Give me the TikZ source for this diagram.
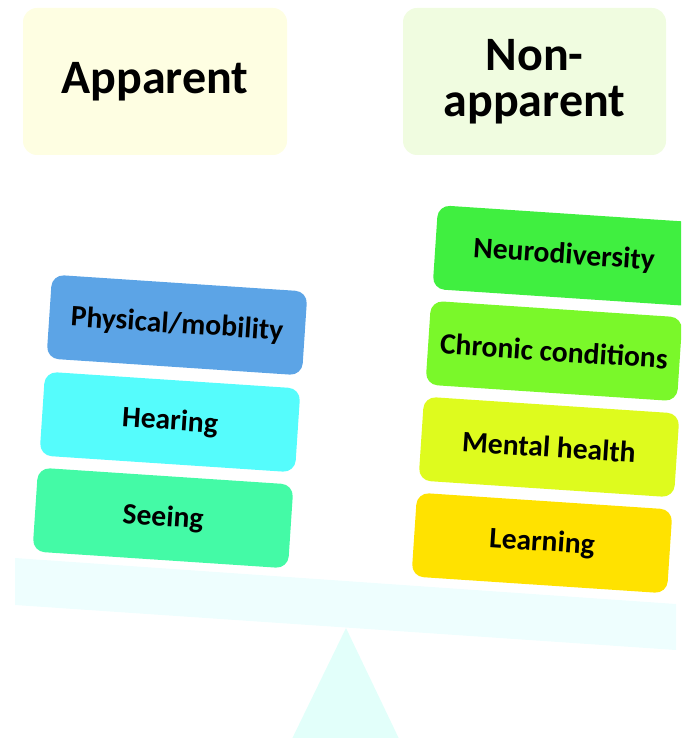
\documentclass[tikz,border=0pt]{standalone}
\usepackage{fontspec}
\setmainfont{Carlito}
\definecolor{apparentbg}{HTML}{FEFEE2}
\definecolor{nonapparentbg}{HTML}{F0FCE0}
\definecolor{physblue}{HTML}{5CA4E6}
\definecolor{hearcyan}{HTML}{55FCFC}
\definecolor{seegreen}{HTML}{44FAA6}
\definecolor{neurogreen}{HTML}{40EF40}
\definecolor{chronicgreen}{HTML}{7AF82A}
\definecolor{mentalyellow}{HTML}{DEFB1E}
\definecolor{learnyellow}{HTML}{FFE200}
\definecolor{beamcol}{HTML}{EEFEFE}
\definecolor{pivotcol}{HTML}{E2FFFA}
\tikzset{
  headbox/.style={rectangle, rounded corners=14pt, minimum width=264pt,
    minimum height=147pt, align=center, inner sep=0pt,
    font=\fontsize{48}{46}\selectfont\bfseries},
  itembox/.style={rectangle, rounded corners=12pt, minimum width=256pt,
    minimum height=84pt, rotate=-3.8, inner sep=0pt,
    font=\fontsize{29.6}{32}\selectfont\bfseries}
}
\begin{document}
\begin{tikzpicture}[x=1pt,y=1pt]
\useasboundingbox (0,0) rectangle (681,-738);
\clip (0,0) rectangle (681,-738);
% pivot and beam of the balance
\fill[pivotcol] (346,-628) -- (402,-745) -- (289,-745) -- cycle;
\fill[beamcol] (15,-558) -- (676,-604) -- (676,-650) -- (15,-605) -- cycle;
% column headings
\node[headbox, fill=apparentbg] (app) at (155,-81.5) {Apparent};
\node[headbox, fill=nonapparentbg, minimum width=263pt] (nonapp) at (534.5,-81.5) {Non-\\apparent};
% apparent side
\node[itembox, fill=physblue] (phys) at (177,-325) {Physical/mobility};
\node[itembox, fill=hearcyan] (hear) at (170,-422) {Hearing};
\node[itembox, fill=seegreen] (see) at (163,-518) {Seeing};
% non-apparent side
\node[itembox, fill=neurogreen, minimum width=270pt] (neuro) at (570,-256) {\hspace*{-12pt}Neurodiversity};
\node[itembox, fill=chronicgreen, minimum width=252pt] (chronic) at (554,-351) {Chronic conditions};
\node[itembox, fill=mentalyellow] (mental) at (549,-447) {Mental health};
\node[itembox, fill=learnyellow] (learn) at (542,-543) {Learning};
\end{tikzpicture}
\end{document}
